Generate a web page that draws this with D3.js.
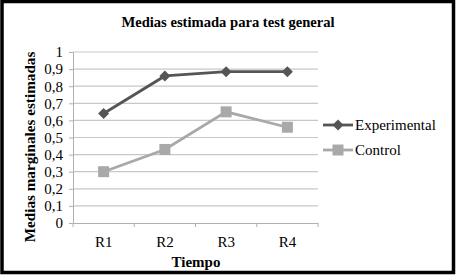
<!DOCTYPE html>
<html>
<head>
<meta charset="utf-8">
<script src="https://cdn.jsdelivr.net/npm/d3@7"></script>
<style>
  body { margin: 0; background: #fff; }
  text { font-family: "Liberation Serif", "Times New Roman", serif; }
</style>
</head>
<body>
<div id="chart"></div>
<script>
// data
const categories = ['R1', 'R2', 'R3', 'R4'];
const experimental = [0.64, 0.86, 0.885, 0.885];
const control = [0.30, 0.43, 0.65, 0.56];
const yTicks = [0, 0.1, 0.2, 0.3, 0.4, 0.5, 0.6, 0.7, 0.8, 0.9, 1];

const seriesList = [
    { name: 'Experimental', values: experimental, color: '#555555', marker: 'diamond' },
    { name: 'Control', values: control, color: '#a9a9a9', marker: 'square' }
];

const width = 456;
const height = 276;
const plot = { left: 73, right: 318, top: 52, bottom: 223 };

const svg = d3.select('#chart').append('svg')
    .attr('width', width)
    .attr('height', height);

// frame
svg.append('rect')
    .attr('x', 2).attr('y', 1.5)
    .attr('width', 451.5).attr('height', 271)
    .attr('fill', 'white')
    .attr('stroke', '#000')
    .attr('stroke-width', 3.5);

const x = d3.scaleBand().domain(categories).range([plot.left, plot.right]);
const y = d3.scaleLinear().domain([0, 1]).range([plot.bottom, plot.top]);

// gridlines
svg.append('g')
    .selectAll('line')
    .data(yTicks.slice(1))
    .enter().append('line')
    .attr('x1', plot.left).attr('x2', plot.right)
    .attr('y1', d => y(d)).attr('y2', d => y(d))
    .attr('stroke', '#c8c8c8')
    .attr('stroke-width', 1.2);

// y axis
const yAxis = svg.append('g')
    .attr('transform', `translate(${plot.left},0)`)
    .call(d3.axisLeft(y).tickValues(yTicks).tickSize(4).tickPadding(6)
        .tickFormat(d => d3.format('.1~f')(d).replace('.', ',')));
yAxis.select('.domain').attr('stroke', '#b0b0b0');
yAxis.selectAll('.tick line').attr('stroke', '#b0b0b0');
yAxis.selectAll('.tick text')
    .style('font-size', '15px')
    .attr('fill', '#000');

// x axis
const xAxis = svg.append('g')
    .attr('transform', `translate(0,${plot.bottom})`)
    .call(d3.axisBottom(x).tickSize(0).tickPadding(13));
xAxis.select('.domain').attr('stroke', '#b0b0b0');
xAxis.selectAll('.tick text')
    .style('font-size', '15px')
    .attr('fill', '#000');
// boundary ticks between categories
xAxis.selectAll('.cat-tick')
    .data(categories.concat(['end']))
    .enter().append('line')
    .attr('class', 'cat-tick')
    .attr('x1', (d, i) => plot.left + i * x.step())
    .attr('x2', (d, i) => plot.left + i * x.step())
    .attr('y1', 0).attr('y2', 4)
    .attr('stroke', '#b0b0b0');

// lines and markers
const line = d3.line()
    .x((d, i) => x(categories[i]) + x.bandwidth() / 2)
    .y(d => y(d));

function drawMarker(g, type, cx, cy, color) {
    if (type === 'diamond') {
        g.append('path')
            .attr('d', `M${cx},${cy - 5.5}L${cx + 5.5},${cy}L${cx},${cy + 5.5}L${cx - 5.5},${cy}Z`)
            .attr('fill', color);
    } else {
        g.append('rect')
            .attr('x', cx - 5.5).attr('y', cy - 5.5)
            .attr('width', 11).attr('height', 11)
            .attr('fill', color);
    }
}

seriesList.forEach(s => {
    const g = svg.append('g');
    g.append('path')
        .datum(s.values)
        .attr('d', line)
        .attr('fill', 'none')
        .attr('stroke', s.color)
        .attr('stroke-width', 2.8);
    s.values.forEach((v, i) => {
        drawMarker(g, s.marker, x(categories[i]) + x.bandwidth() / 2, y(v), s.color);
    });
});

// legend
const legend = svg.append('g').attr('transform', 'translate(323,125)');
seriesList.forEach((s, i) => {
    const row = legend.append('g').attr('transform', `translate(0,${i * 25})`);
    row.append('line')
        .attr('x1', 0).attr('x2', 30)
        .attr('y1', 0).attr('y2', 0)
        .attr('stroke', s.color)
        .attr('stroke-width', 2.8);
    drawMarker(row, s.marker, 15, 0, s.color);
    row.append('text')
        .attr('x', 32).attr('y', 5)
        .style('font-size', '15px')
        .text(s.name);
});

// titles
svg.append('text')
    .attr('x', 228).attr('y', 27)
    .attr('text-anchor', 'middle')
    .style('font-size', '14.6px')
    .style('font-weight', 'bold')
    .text('Medias estimada para test general');

svg.append('text')
    .attr('x', 196).attr('y', 267)
    .attr('text-anchor', 'middle')
    .style('font-size', '15px')
    .style('font-weight', 'bold')
    .text('Tiempo');

svg.append('text')
    .attr('transform', 'translate(35,147) rotate(-90)')
    .attr('text-anchor', 'middle')
    .style('font-size', '15.2px')
    .style('font-weight', 'bold')
    .text('Medias marginales estimadas');
</script>
</body>
</html>
